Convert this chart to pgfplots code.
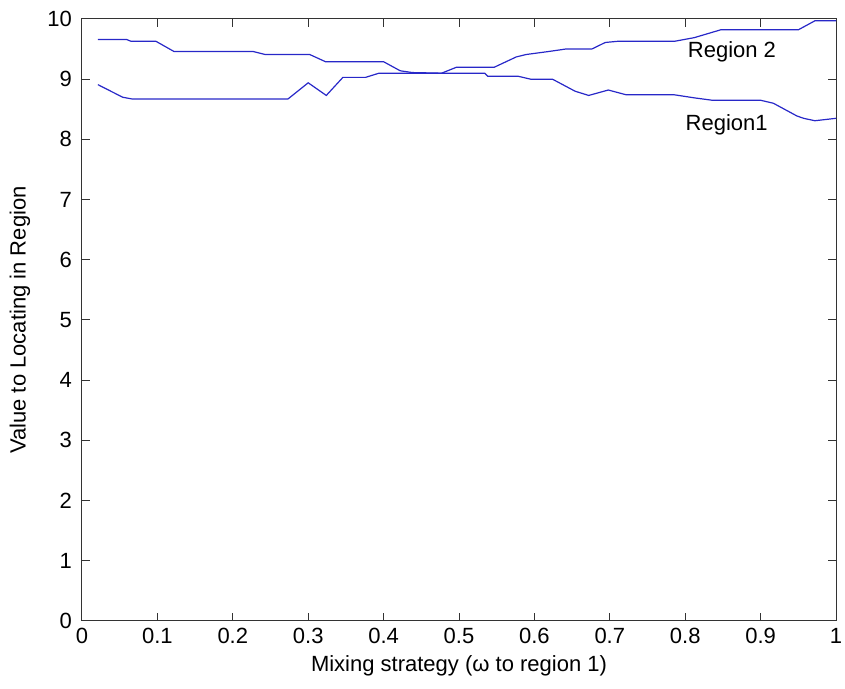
\documentclass[border=0pt]{standalone}
\usepackage{pgfplots}
\pgfplotsset{compat=1.18}
\usepackage{fontspec}
\setmainfont{Liberation Sans}
\definecolor{lineblue}{RGB}{40,40,200}
\newcommand{\plotfont}{\fontsize{11}{13}\selectfont}

\begin{document}
\begin{tikzpicture}
\begin{axis}[
  name=ax,
  scale only axis,
  width=377pt, height=301pt,
  xmin=0, xmax=1, ymin=0, ymax=10,
  xtick={0,0.1,...,1.0}, ytick={0,1,...,10},
  xticklabels={0,0.1,0.2,0.3,0.4,0.5,0.6,0.7,0.8,0.9,1},
  tick align=inside,
  major tick length=4pt,
  /pgf/number format/assume math mode=true,
  ticklabel style={font=\plotfont, text=black},
  yticklabel style={xshift=-1.5pt},
  label style={font=\plotfont},
  xlabel={Mixing strategy (ω to region 1)},
  ylabel={Value to Locating in Region},
  xlabel style={at={(axis description cs:0.5,-0.0748)}, anchor=center},
  ylabel style={at={(axis description cs:-0.0822,0.5)}, anchor=center},
  axis line style={black!80, line width=0.5pt},
  every tick/.style={black!80, line width=0.5pt},
]
% Region 2
\addplot[lineblue, line width=0.6pt] coordinates {
 (0.021,9.66) (0.059,9.66) (0.065,9.63) (0.098,9.63) (0.122,9.46)
 (0.227,9.46) (0.243,9.41) (0.302,9.41) (0.323,9.29) (0.400,9.29)
 (0.422,9.14) (0.438,9.11) (0.477,9.10) (0.497,9.20) (0.547,9.20)
 (0.576,9.37) (0.589,9.41) (0.619,9.46) (0.641,9.50) (0.676,9.50)
 (0.694,9.61) (0.711,9.63) (0.786,9.63) (0.812,9.69) (0.847,9.82)
 (0.950,9.82) (0.972,9.97) (1.000,9.97)
};
% Region 1
\addplot[lineblue, line width=0.6pt] coordinates {
 (0.021,8.91) (0.054,8.70) (0.067,8.67) (0.273,8.67) (0.300,8.94)
 (0.324,8.73) (0.346,9.03) (0.376,9.03) (0.394,9.10) (0.534,9.10)
 (0.538,9.05) (0.578,9.05) (0.595,9.00) (0.624,9.00) (0.654,8.80)
 (0.672,8.73) (0.698,8.82) (0.722,8.74) (0.786,8.74) (0.812,8.69)
 (0.836,8.65) (0.900,8.65) (0.917,8.60) (0.948,8.39) (0.957,8.35)
 (0.972,8.31) (1.000,8.35)
};
\node[font=\plotfont] at (axis cs:0.862,9.46) {Region 2};
\node[font=\plotfont] at (axis cs:0.855,8.24) {Region1};
\end{axis}
\pgfresetboundingbox
\path ([shift={(-41pt,-34pt)}]ax.south west) rectangle ([shift={(4.5pt,9.5pt)}]ax.north east);
\end{tikzpicture}
\end{document}
